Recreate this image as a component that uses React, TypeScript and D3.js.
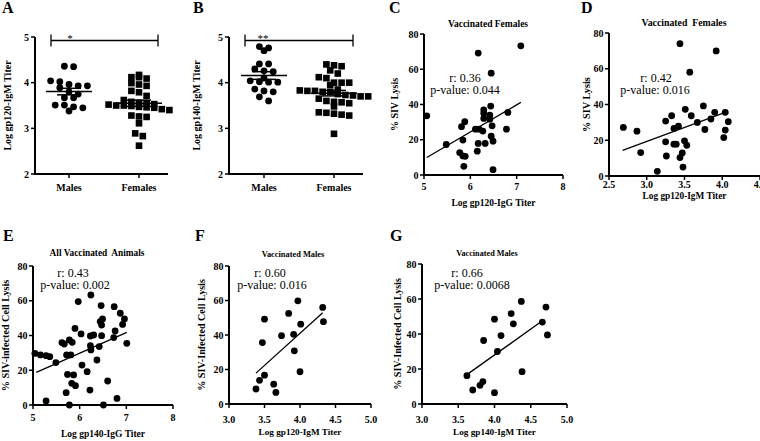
import React from 'react';
import * as d3 from 'd3';

// ---------- data ----------
const groups = ['Males', 'Females'];
const titerTicks = [2, 3, 4, 5];
const lysisTicks = [0, 20, 40, 60, 80];
const igTicks = [5, 6, 7, 8];
const dTicks = [2.5, 3.0, 3.5, 4.0, 4.5];
const fgTicks = [3.0, 3.5, 4.0, 4.5, 5.0];

const aMales = [4.36, 4.35, 4.04, 4.02, 3.96, 3.93, 3.93, 3.89, 3.8, 3.75, 3.67, 3.67, 3.51, 3.51, 3.47, 3.45, 3.38];
const aFemales = [4.17, 4.12, 4.12, 4.09, 3.99, 3.96, 3.93, 3.82, 3.79, 3.71, 3.62, 3.58, 3.56, 3.55, 3.53, 3.52, 3.5, 3.5, 3.49, 3.47, 3.46, 3.45, 3.42, 3.4, 3.28, 3.26, 3.25, 3.11, 2.89, 2.83, 2.62];
const bMales = [4.79, 4.76, 4.7, 4.41, 4.41, 4.3, 4.26, 4.24, 4.1, 4.04, 4.02, 4.01, 4.01, 3.86, 3.82, 3.8, 3.69, 3.6];
const bFemales = [4.4, 4.38, 4.36, 4.27, 4.2, 4.12, 4.1, 4.0, 4.0, 4.0, 3.95, 3.85, 3.83, 3.82, 3.82, 3.8, 3.8, 3.75, 3.73, 3.72, 3.7, 3.7, 3.65, 3.6, 3.58, 3.57, 3.55, 3.48, 3.35, 3.34, 3.32, 3.3, 3.28, 2.88];

const cX = [5.06, 5.48, 5.77, 5.84, 5.81, 5.88, 5.84, 5.89, 5.86, 6.11, 6.17, 6.17, 6.15, 6.19, 6.27, 6.29, 6.29, 6.29, 6.32, 6.42, 6.44, 6.45, 6.42, 6.47, 6.45, 6.49, 6.49, 6.78, 6.81, 7.09];
const cY = [33.6, 17.3, 12.7, 19.8, 27.4, 30.2, 10.8, 10.6, 4.9, 26, 69.2, 17.9, 13.5, 26, 24.9, 36.9, 35, 32.1, 17.9, 34, 39.1, 57.8, 31.7, 27.9, 22, 19.2, 3, 26, 35.5, 73.3];
const cFitX = [5.06, 7.09];
const cFitY = [9.9, 41.2];

const dX = [2.69, 2.87, 2.92, 3.14, 3.25, 3.25, 3.26, 3.33, 3.36, 3.36, 3.39, 3.42, 3.44, 3.44, 3.47, 3.48, 3.5, 3.53, 3.51, 3.57, 3.59, 3.67, 3.75, 3.77, 3.85, 3.9, 3.92, 4.04, 4.02, 4.04, 4.08];
const dY = [27.2, 25.1, 13.1, 2.6, 30.7, 19.1, 11.2, 33.7, 26.6, 17.8, 17.8, 27.9, 74, 10.3, 12.9, 5.0, 19.7, 17.2, 37.3, 58.1, 33.7, 30, 39.2, 26, 31.9, 35.6, 70, 35.6, 21.5, 25.7, 30.4];
const dFitX = [2.68, 4.04];
const dFitY = [14.3, 35.6];

const eX = [5.04, 5.16, 5.28, 5.36, 5.49, 5.28, 5.62, 5.67, 5.78, 5.84, 5.72, 5.81, 5.9, 5.97, 6.03, 5.74, 5.87, 5.83, 5.91, 5.71, 5.78, 6.05, 6.16, 6.22, 6.24, 6.23, 6.3, 6.23, 6.24, 6.37, 6.42, 6.47, 6.44, 6.49, 6.46, 6.47, 6.51, 6.6, 6.74, 6.76, 6.73, 6.8, 6.87, 6.92, 6.96, 7.01];
const eY = [29.7, 28.8, 28.4, 27.8, 24.4, 2.3, 35.9, 35.1, 37.4, 36.1, 28.8, 28.8, 44.1, 59.5, 40.9, 17.6, 17.3, 12.5, 11.1, 7.1, 0, 23, 19.2, 8.6, 63.3, 39.7, 40.3, 34.1, 31.7, 25.9, 33.6, 39.9, 48, 49.5, 57.2, 46, 0, 13.8, 56.6, 42.6, 38.8, 3.8, 52.8, 46.4, 49.5, 35.5];
const eFitX = [5.07, 7.01];
const eFitY = [18.8, 41.8];

const fX = [3.38, 3.43, 3.47, 3.5, 3.5, 3.63, 3.66, 3.74, 3.84, 3.91, 3.92, 3.97, 4.01, 4.0, 4.32, 4.33];
const fY = [8.7, 13.7, 35.6, 49.2, 16.7, 11.5, 6.7, 39.6, 52.5, 40.4, 30.8, 59.8, 46.3, 18.7, 56, 47.7];
const fFitX = [3.38, 4.32];
const fFitY = [17.9, 52.9];

const gX = [3.62, 3.7, 3.8, 3.85, 3.84, 4.0, 4.0, 4.04, 4.09, 4.23, 4.26, 4.37, 4.38, 4.66, 4.71, 4.73];
const gY = [16.2, 8, 10.7, 36.3, 12.8, 6.5, 48.5, 30, 39.1, 51.7, 45.8, 58.6, 18.5, 46.8, 55.4, 39.5];
const gFitX = [3.6, 4.68];
const gFitY = [16.2, 48.1];

// ---------- styling ----------
const FONT = '"Liberation Serif", "Times New Roman", serif';
const AX = 2;

type Pt = { x: number; y: number };

// Prism-style scatter: bin values into rows of height binH, spread each row horizontally
function rowSwarm(values: number[], y: (v: number) => number, cx: number, binH: number, gap: number): Pt[] {
  const out: Pt[] = new Array(values.length);
  const rows = d3.group(values.map((v, i) => i), i => Math.round(y(values[i]) / binH));
  for (const [, idx] of rows) {
    const sorted = [...idx].sort((a, b) => values[b] - values[a]);
    const n = sorted.length;
    sorted.forEach((i, j) => {
      out[i] = { x: cx + (j - (n - 1) / 2) * gap, y: y(values[i]) };
    });
  }
  return out;
}

function MeanSem({ vals, cx, y }: { vals: number[]; cx: number; y: d3.ScaleLinear<number, number> }) {
  const m = d3.mean(vals) as number;
  const sem = (d3.deviation(vals) as number) / Math.sqrt(vals.length);
  return (
    <g stroke="#000" strokeWidth={1.5}>
      <line x1={cx - 23} x2={cx + 23} y1={y(m)} y2={y(m)} />
      <line x1={cx} x2={cx} y1={y(m - sem)} y2={y(m + sem)} />
      <line x1={cx - 12} x2={cx + 12} y1={y(m + sem)} y2={y(m + sem)} />
      <line x1={cx - 12} x2={cx + 12} y1={y(m - sem)} y2={y(m - sem)} />
    </g>
  );
}

function DotPanel(props: {
  letter: string; letterX: number; axL: number; axR: number; cats: [number, number];
  males: number[]; females: number[]; yLabel: string; yLabelX: number;
  sig: string; sigX: number; sigL: number; sigR: number;
}) {
  const { letter, letterX, axL, axR, cats, males, females, yLabel, yLabelX, sig, sigX, sigL, sigR } = props;
  const y = d3.scaleLinear().domain([2, 5]).range([174, 37]);
  const x = d3.scalePoint<string>().domain(groups).range(cats);
  const mx = x('Males') as number;
  const fx = x('Females') as number;
  const mPts = rowSwarm(males, y, mx, 7.6, 9.2);
  const fPts = rowSwarm(females, y, fx, 7.2, 7.6);
  const sigY = 40.5;
  return (
    <g fontFamily={FONT}>
      <text x={letterX} y={13} fontSize={16} fontWeight="bold">{letter}</text>
      <line x1={axL} x2={axL} y1={y(5)} y2={y(2)} stroke="#000" strokeWidth={AX} />
      <line x1={axL - 1} x2={axR} y1={y(2)} y2={y(2)} stroke="#000" strokeWidth={AX} />
      {titerTicks.map(t => (
        <g key={t}>
          <line x1={axL - 4} x2={axL} y1={y(t)} y2={y(t)} stroke="#000" strokeWidth={1.5} />
          <text x={axL - 6} y={y(t) + 3.5} fontSize={10} fontWeight="bold" textAnchor="end">{t}</text>
        </g>
      ))}
      {groups.map(g => (
        <g key={g}>
          <line x1={x(g)} x2={x(g)} y1={y(2)} y2={y(2) + 4} stroke="#000" strokeWidth={1.5} />
          <text x={x(g)} y={190.5} fontSize={10} fontWeight="bold" textAnchor="middle">{g}</text>
        </g>
      ))}
      <text transform={`translate(${yLabelX},105.5) rotate(-90)`} fontSize={10} fontWeight="bold" textAnchor="middle" dominantBaseline="central">{yLabel}</text>
      <g stroke="#000" strokeWidth={1.3}>
        <line x1={sigL} x2={sigR} y1={sigY} y2={sigY} />
        <line x1={sigL} x2={sigL} y1={sigY - 6} y2={sigY + 6} />
        <line x1={sigR} x2={sigR} y1={sigY - 6} y2={sigY + 6} />
      </g>
      <text x={sigX} y={41.5} fontSize={11} textAnchor="middle">{sig}</text>
      {mPts.map((p, i) => <circle key={'m' + i} cx={p.x} cy={p.y} r={3.4} fill="#000" />)}
      {fPts.map((p, i) => <rect key={'f' + i} x={p.x - 3.3} y={p.y - 3.3} width={6.6} height={6.6} fill="#000" />)}
      <MeanSem vals={males} cx={mx} y={y} />
      <MeanSem vals={females} cx={fx} y={y} />
    </g>
  );
}

function ScatterPanel(props: {
  letter: string; letterX: number; letterY: number;
  xDomain: [number, number]; xRange: [number, number]; yRange: [number, number];
  xTicks: number[]; fmt: (n: number) => string; xs: number[]; ys: number[];
  fitX: number[]; fitY: number[];
  title: string; titleX: number; titleY: number; titleSize: number;
  xLabel: string; xLabelY: number; xLabelSize: number; tickY: number;
  yLabel: string; yLabelX: number; yLabelSize: number;
  r: string; p: string; rX: number; pX: number; rY: number;
}) {
  const pr = props;
  const x = d3.scaleLinear().domain(pr.xDomain).range(pr.xRange);
  const y = d3.scaleLinear().domain([0, 80]).range(pr.yRange);
  const line = d3.line<number>().x(v => x(v)).y((_, i) => y(pr.fitY[i]));
  const xMid = (pr.xRange[0] + pr.xRange[1]) / 2;
  const yMid = (pr.yRange[0] + pr.yRange[1]) / 2;
  return (
    <g fontFamily={FONT}>
      <text x={pr.letterX} y={pr.letterY} fontSize={16} fontWeight="bold">{pr.letter}</text>
      <text x={pr.titleX} y={pr.titleY} fontSize={pr.titleSize} fontWeight="bold" textAnchor="middle" style={{ whiteSpace: 'pre' }}>{pr.title}</text>
      <line x1={x(pr.xDomain[0])} x2={x(pr.xDomain[0])} y1={y(80)} y2={y(0)} stroke="#000" strokeWidth={AX} />
      <line x1={x(pr.xDomain[0]) - 1} x2={x(pr.xDomain[1])} y1={y(0)} y2={y(0)} stroke="#000" strokeWidth={AX} />
      {lysisTicks.map(t => (
        <g key={t}>
          <line x1={x(pr.xDomain[0]) - 4} x2={x(pr.xDomain[0])} y1={y(t)} y2={y(t)} stroke="#000" strokeWidth={1.5} />
          <text x={x(pr.xDomain[0]) - 5.5} y={y(t) + 3.5} fontSize={10} fontWeight="bold" textAnchor="end">{t}</text>
        </g>
      ))}
      {pr.xTicks.map(t => (
        <g key={t}>
          <line x1={x(t)} x2={x(t)} y1={y(0)} y2={y(0) + 4} stroke="#000" strokeWidth={1.5} />
          <text x={x(t)} y={pr.tickY} fontSize={10} fontWeight="bold" textAnchor="middle">{pr.fmt(t)}</text>
        </g>
      ))}
      <text x={xMid} y={pr.xLabelY} fontSize={pr.xLabelSize} fontWeight="bold" textAnchor="middle">{pr.xLabel}</text>
      <text transform={`translate(${pr.yLabelX},${yMid}) rotate(-90)`} fontSize={pr.yLabelSize} fontWeight="bold" textAnchor="middle" dominantBaseline="central">{pr.yLabel}</text>
      <path d={line(pr.fitX) as string} stroke="#000" strokeWidth={1.3} fill="none" />
      {pr.xs.map((v, i) => <circle key={i} cx={x(v)} cy={y(pr.ys[i])} r={3.4} fill="#000" />)}
      <text x={pr.rX} y={pr.rY} fontSize={12} textAnchor="middle">{pr.r}</text>
      <text x={pr.pX} y={pr.rY + 12} fontSize={12} textAnchor="middle">{pr.p}</text>
    </g>
  );
}

const intFmt = d3.format('d');
const decFmt = d3.format('.1f');

export default function App() {
  return (
    <svg width={760} height={441} style={{ position: 'absolute', left: 0, top: 0, background: '#fff' }}>
      <rect width={760} height={441} fill="#fff" />
      <DotPanel letter="A" letterX={2} axL={35} axR={168} cats={[69, 139]} males={aMales} females={aFemales}
        yLabel="Log gp120-IgM Titer" yLabelX={7} sig="*" sigX={70} sigL={51} sigR={158} />
      <DotPanel letter="B" letterX={193} axL={229} axR={363} cats={[264, 334]} males={bMales} females={bFemales}
        yLabel="Log gp140-IgM Titer" yLabelX={196} sig="**" sigX={263} sigL={245} sigR={353} />
      <ScatterPanel letter="C" letterX={389} letterY={13} xDomain={[5, 8]} xRange={[424, 563]} yRange={[175, 34]}
        xTicks={igTicks} fmt={intFmt} xs={cX} ys={cY} fitX={cFitX} fitY={cFitY}
        title="Vaccinated Females" titleX={488} titleY={27} titleSize={9.5}
        xLabel="Log gp120-IgG Titer" xLabelY={206} xLabelSize={9.5} tickY={189.5}
        yLabel="% SIV Lysis" yLabelX={394} yLabelSize={10}
        r="r: 0.36" p="p-value: 0.044" rX={465} pX={465} rY={81.5} />
      <ScatterPanel letter="D" letterX={581} letterY={13} xDomain={[2.5, 4.5]} xRange={[609, 760]} yRange={[176, 33]}
        xTicks={dTicks} fmt={decFmt} xs={dX} ys={dY} fitX={dFitX} fitY={dFitY}
        title="Vaccinated  Females" titleX={684} titleY={26} titleSize={9.8}
        xLabel="Log gp120-IgM Titer" xLabelY={199} xLabelSize={9.3} tickY={188}
        yLabel="% SIV Lysis" yLabelX={586} yLabelSize={10.3}
        r="r: 0.42" p="p-value: 0.016" rX={656} pX={655} rY={81.5} />
      <ScatterPanel letter="E" letterX={3} letterY={241} xDomain={[5, 8]} xRange={[33, 173]} yRange={[405, 266]}
        xTicks={igTicks} fmt={intFmt} xs={eX} ys={eY} fitX={eFitX} fitY={eFitY}
        title="All Vaccinated  Animals" titleX={97} titleY={256} titleSize={9.3}
        xLabel="Log gp140-IgG Titer" xLabelY={437} xLabelSize={9.5} tickY={420.5}
        yLabel="% SIV-infected Cell Lysis" yLabelX={5} yLabelSize={10.2}
        r="r: 0.43" p="p-value: 0.002" rX={73} pX={75} rY={276.5} />
      <ScatterPanel letter="F" letterX={195} letterY={241} xDomain={[3, 5]} xRange={[229, 371]} yRange={[404, 266]}
        xTicks={fgTicks} fmt={decFmt} xs={fX} ys={fY} fitX={fFitX} fitY={fFitY}
        title="Vaccinated Males" titleX={293} titleY={257} titleSize={8.4}
        xLabel="Log gp120-IgM Titer" xLabelY={434.5} xLabelSize={9.2} tickY={422.5}
        yLabel="% SIV-Infected Cell Lysis" yLabelX={201} yLabelSize={10.1}
        r="r: 0.60" p="p-value: 0.016" rX={270} pX={272} rY={276.5} />
      <ScatterPanel letter="G" letterX={390} letterY={241} xDomain={[3, 5]} xRange={[422, 567]} yRange={[404, 264]}
        xTicks={fgTicks} fmt={decFmt} xs={gX} ys={gY} fitX={gFitX} fitY={gFitY}
        title="Vaccinated Males" titleX={487} titleY={256} titleSize={8.2}
        xLabel="Log gp140-IgM Titer" xLabelY={434.5} xLabelSize={9.2} tickY={422.5}
        yLabel="% SIV-Infected Cell Lysis" yLabelX={397} yLabelSize={10.1}
        r="r: 0.66" p="p-value: 0.0068" rX={467} pX={472} rY={276.5} />
    </svg>
  );
}
